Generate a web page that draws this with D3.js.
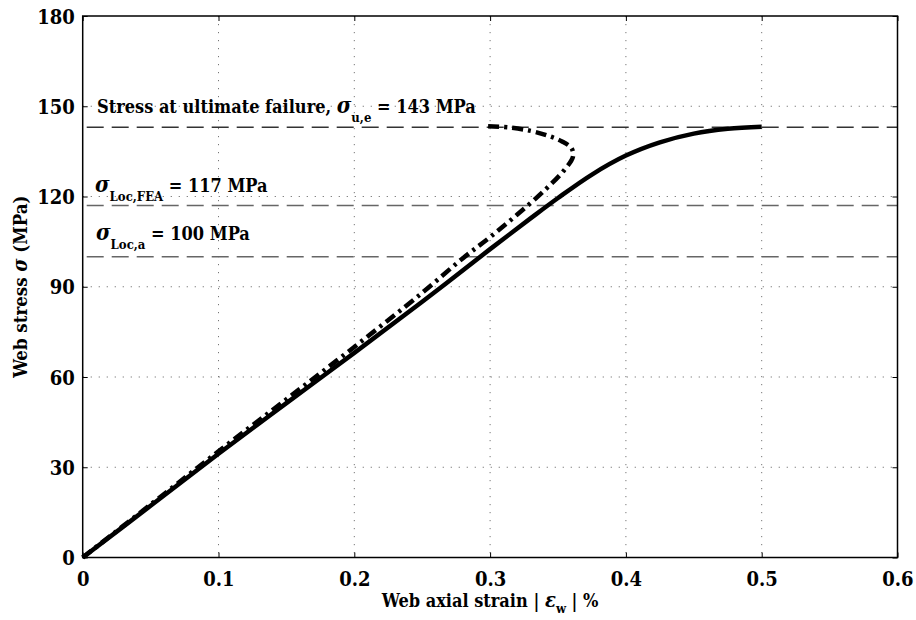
<!DOCTYPE html>
<html><head><meta charset="utf-8">
<script src="https://cdn.jsdelivr.net/npm/d3@7"></script>
<style>body{margin:0;background:#fff}</style>
</head><body><svg id="c" width="916" height="620" font-family="DejaVu Serif Condensed, DejaVu Serif, serif" font-weight="bold"></svg>
<script>
// Data
const xTicks = [0, 0.1, 0.2, 0.3, 0.4, 0.5, 0.6];
const yTicks = [0, 30, 60, 90, 120, 150, 180];
const solidStrain = [0, 0.05, 0.1, 0.15, 0.2, 0.25, 0.3, 0.33, 0.35, 0.375, 0.4, 0.425, 0.45, 0.475, 0.5];
const solidStress = [0, 17.2, 34.5, 51.3, 68, 85, 102.5, 112.8, 119.5, 127.3, 133.6, 138, 140.9, 142.5, 143.2];
const dashStrain = [0, 0.05, 0.1, 0.15, 0.2, 0.25, 0.28, 0.3, 0.32, 0.34, 0.355, 0.361, 0.36, 0.353, 0.342, 0.33, 0.315, 0.298];
const dashStress = [0, 17.6, 35.3, 52.6, 70, 88, 99.5, 106.5, 114, 122, 129, 133.2, 136, 138.3, 140.3, 141.8, 142.9, 143.4];
const refLevels = [143, 117, 100];

const FONT = "DejaVu Serif Condensed, DejaVu Serif, serif";
const svg = d3.select("#c");
const L = 82.7, R = 897.5, T = 16, B = 557.5;
const x = d3.scaleLinear().domain([0, 0.6]).range([L, R]);
const y = d3.scaleLinear().domain([0, 180]).range([B, T]);

// grid
const g = svg.append("g");
g.selectAll(".vg").data(xTicks.slice(1, -1)).enter().append("line")
  .attr("x1", d => x(d)).attr("x2", d => x(d)).attr("y1", T).attr("y2", B)
  .attr("stroke", "#777").attr("stroke-width", 1).attr("stroke-dasharray", "1.2,6.8");
g.selectAll(".hg").data(yTicks.slice(1, -1)).enter().append("line")
  .attr("y1", d => y(d)).attr("y2", d => y(d)).attr("x1", L).attr("x2", R)
  .attr("stroke", "#777").attr("stroke-width", 1).attr("stroke-dasharray", "1.2,6.8");

// reference dashed lines
svg.selectAll(".ref").data(refLevels).enter().append("line")
  .attr("x1", L).attr("x2", R).attr("y1", d => y(d)).attr("y2", d => y(d))
  .attr("stroke", (d, i) => i === 0 ? "#333" : "#666").attr("stroke-width", 1.5)
  .attr("stroke-dasharray", "17,8").attr("stroke-dashoffset", -4);

// curves
const line = d3.line().x(d => x(d[0])).y(d => y(d[1])).curve(d3.curveCatmullRom.alpha(0.5));
svg.append("path").datum(solidStrain.map((v, i) => [v, solidStress[i]]))
  .attr("d", line).attr("fill", "none").attr("stroke", "#000").attr("stroke-width", 4.5);
svg.append("path").datum(dashStrain.map((v, i) => [v, dashStress[i]]))
  .attr("d", line).attr("fill", "none").attr("stroke", "#000").attr("stroke-width", 4.5)
  .attr("stroke-dasharray", "11,5,3,5");

// axes
const xAxis = d3.axisBottom(x).tickValues(xTicks).tickSizeInner(-5).tickSizeOuter(0).tickPadding(14).tickFormat(d => d === 0 ? "0" : d3.format(".1f")(d));
const yAxis = d3.axisLeft(y).tickValues(yTicks).tickSizeInner(-5).tickSizeOuter(0).tickPadding(8).tickFormat(d3.format("d"));
const gx = svg.append("g").attr("transform", `translate(0,${B})`).call(xAxis);
const gy = svg.append("g").attr("transform", `translate(${L},0)`).call(yAxis);
[gx, gy].forEach(a => {
  a.attr("font-family", FONT).attr("font-size", 20).attr("font-weight", "bold");
  a.select(".domain").remove();
  a.selectAll("line").attr("stroke", "#000").attr("stroke-width", 1);
  a.selectAll("text").attr("fill", "#000");
});
gy.selectAll("text").attr("dy", "0.35em");
// mirrored ticks
svg.append("g").attr("transform", `translate(0,${T})`).call(d3.axisTop(x).tickValues(xTicks).tickSizeInner(-5).tickSizeOuter(0).tickFormat(""))
  .call(a => { a.select(".domain").remove(); a.selectAll("line").attr("stroke", "#000"); });
svg.append("g").attr("transform", `translate(${R},0)`).call(d3.axisRight(y).tickValues(yTicks).tickSizeInner(-5).tickSizeOuter(0).tickFormat(""))
  .call(a => { a.select(".domain").remove(); a.selectAll("line").attr("stroke", "#000"); });

// frame
svg.append("rect").attr("x", L).attr("y", T).attr("width", R - L).attr("height", B - T)
  .attr("fill", "none").attr("stroke", "#000").attr("stroke-width", 1.5);

// axis labels
const xl = svg.append("text").attr("x", (L + R) / 2).attr("y", 607).attr("text-anchor", "middle").attr("font-family", FONT).attr("font-size", 18);
xl.append("tspan").text("Web axial strain | ");
xl.append("tspan").attr("font-style", "italic").attr("font-size", 20).text("ε");
xl.append("tspan").attr("dy", 6).attr("font-size", 13).text("w");
xl.append("tspan").attr("dy", -6).text(" | %");

const yl = svg.append("text").attr("transform", `translate(27,${(T + B) / 2}) rotate(-90)`).attr("text-anchor", "middle").attr("font-family", FONT).attr("font-size", 18.5);
yl.append("tspan").text("Web stress ");
yl.append("tspan").attr("font-style", "italic").attr("font-size", 20).text("σ");
yl.append("tspan").text(" (MPa)");

// annotations
function annot(xp, yp, pre, sub, post) {
  const t = svg.append("text").attr("x", xp).attr("y", yp).attr("font-family", FONT).attr("font-size", 18);
  if (pre) t.append("tspan").text(pre);
  t.append("tspan").attr("font-style", "italic").attr("font-size", 22).text("σ");
  t.append("tspan").attr("dy", 9).attr("font-size", 13).text(sub);
  t.append("tspan").attr("dy", -9).text(" = " + post);
}
annot(97, 113, "Stress at ultimate failure, ", "u,e", "143 MPa");
annot(95, 192, "", "Loc,FEA", "117 MPa");
annot(96, 240, "", "Loc,a", "100 MPa");
</script></body></html>
